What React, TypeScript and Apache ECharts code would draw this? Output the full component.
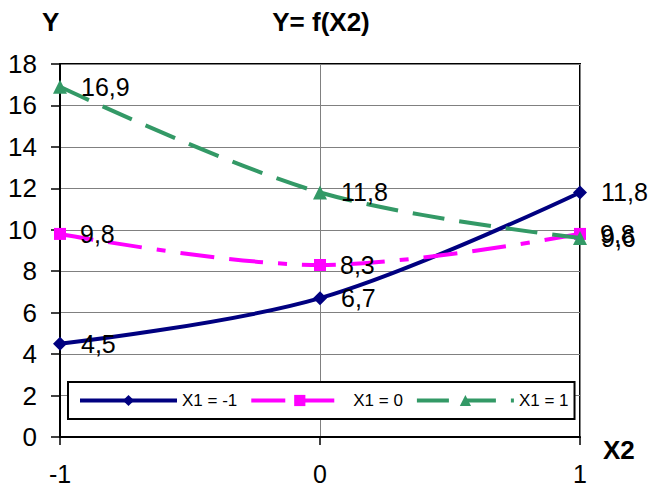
import React, { useEffect, useRef } from "react";
import * as echarts from "echarts";

const xValues = [-1, 0, 1];
const seriesNames = ["X1 = -1", "X1 = 0", "X1 = 1"];
const valsA = [4.5, 6.7, 11.8];
const valsB = [9.8, 8.3, 9.8];
const valsC = [16.9, 11.8, 9.6];
const colors = ["#000080", "#FF00FF", "#339966"];
const symbols = ["diamond", "rect", "triangle"];
const symbolSizes = [14, 12, 14];
const dashes: any[] = ["solid", [34, 15, 34, 15, 9, 15], [32, 15]];

const FONT = "'Liberation Sans', Arial, sans-serif";

export default function App() {
  const ref = useRef<HTMLDivElement>(null);
  useEffect(() => {
    if (!ref.current) return;
    const chart = echarts.init(ref.current, null, { renderer: "svg" });
    const allVals = [valsA, valsB, valsC];
    const series = allVals.map((vals, i) => ({
      name: seriesNames[i],
      type: "line",
      smooth: 0.35,
      data: vals.map((v, j) => [xValues[j], v]),
      symbol: symbols[i],
      symbolSize: symbolSizes[i],
      itemStyle: { color: colors[i] },
      lineStyle: { color: colors[i], width: 4, type: dashes[i] },
      label: {
        show: true,
        position: "right",
        distance: 14,
        fontSize: 25,
        fontFamily: FONT,
        color: "#000",
        formatter: (p: any) => String(p.value[1]).replace(".", ","),
      },
      labelLayout: { hideOverlap: false },
      z: 3 + i,
    }));
    chart.setOption({
      animation: false,
      backgroundColor: "#fff",
      textStyle: { fontFamily: FONT },
      grid: {
        left: 60,
        right: 77,
        top: 64,
        bottom: 52,
        show: true,
        borderColor: "#000",
        borderWidth: 2,
        backgroundColor: "transparent",
      },
      xAxis: {
        type: "value",
        min: -1,
        max: 1,
        interval: 1,
        axisLine: { show: true, onZero: false, lineStyle: { color: "#000", width: 2 } },
        axisTick: { show: true, length: 8, lineStyle: { color: "#000", width: 1.5 } },
        axisLabel: { fontSize: 25, color: "#000", margin: 24, fontFamily: FONT },
        splitLine: { show: true, lineStyle: { color: "#808080", width: 1 } },
      },
      yAxis: {
        type: "value",
        min: 0,
        max: 18,
        interval: 2,
        axisLine: { show: true, onZero: false, lineStyle: { color: "#000", width: 2 } },
        axisTick: { show: true, length: 9, lineStyle: { color: "#000", width: 1.5 } },
        axisLabel: { fontSize: 26, color: "#000", margin: 23, fontFamily: FONT },
        splitLine: { show: true, lineStyle: { color: "#808080", width: 1 } },
      },
      legend: {
        left: 68,
        top: 382,
        orient: "horizontal",
        itemWidth: 97,
        itemHeight: 14,
        itemGap: 12,
        padding: [10, 6, 10, 10],
        borderColor: "#000",
        borderWidth: 2,
        backgroundColor: "#fff",
        lineStyle: { width: 4 },
        textStyle: { fontSize: 17, color: "#000", fontFamily: FONT },
        data: seriesNames,
      },
      graphic: [
        {
          type: "text",
          left: 42,
          top: 9,
          style: { text: "Y", font: `bold 26px ${FONT}`, fill: "#000" },
        },
        {
          type: "text",
          x: 321,
          y: 9,
          style: { text: "Y= f(X2)", font: `bold 26px ${FONT}`, fill: "#000", textAlign: "center" },
        },
        {
          type: "text",
          left: 603,
          top: 437,
          style: { text: "X2", font: `bold 26px ${FONT}`, fill: "#000" },
        },
      ],
      series,
    });
    return () => chart.dispose();
  }, []);
  return (
    <div
      ref={ref}
      style={{ position: "fixed", left: 0, top: 0, width: 657, height: 489 }}
    />
  );
}
